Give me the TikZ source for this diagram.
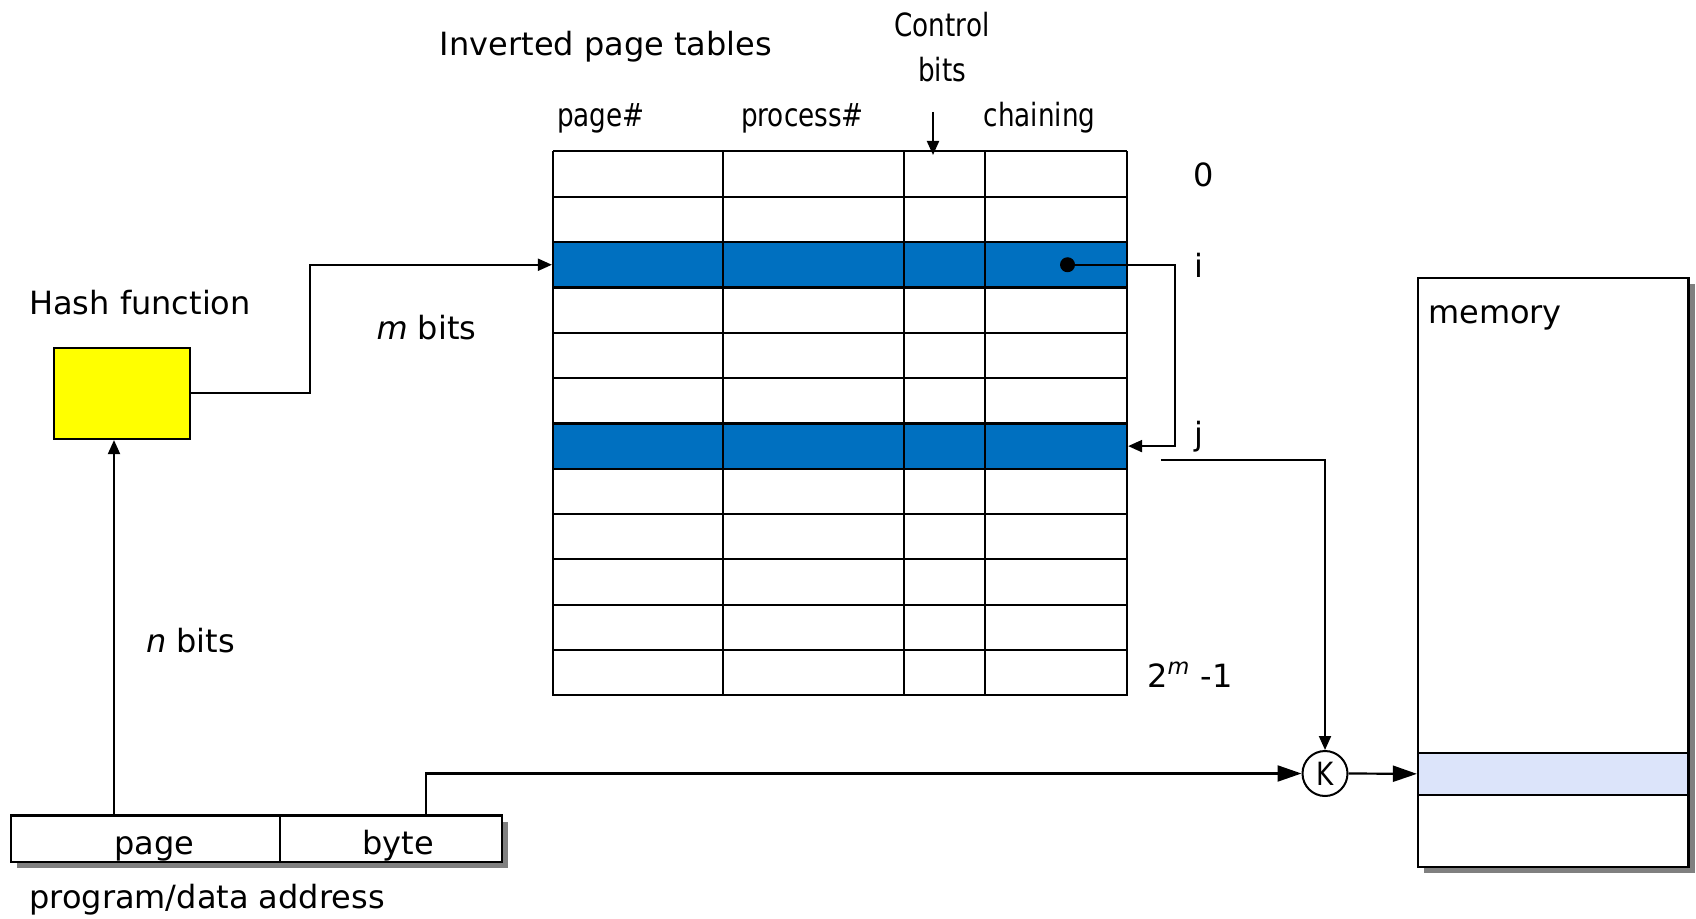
\documentclass[tikz,border=0pt]{standalone}
\usepackage{fontspec}
\setmainfont{DejaVu Sans}
\usetikzlibrary{arrows.meta,shadows}
\definecolor{rowblue}{HTML}{0070C0}
\definecolor{hashyellow}{HTML}{FFFF00}
\definecolor{memblue}{HTML}{DCE4FA}
\newcommand{\narrowtext}[1]{\scalebox{0.82}[1]{#1}}

\begin{document}
\begin{tikzpicture}[x=0.5pt, y=-0.5pt,
		text_style/.style={font=\fontsize{16}{19}\selectfont, inner sep=0pt, anchor=base},
		box_style/.style={draw=black, line width=1.1pt, inner sep=0pt},
		shadow_style/.style={drop shadow={shadow xshift=3pt, shadow yshift=-3pt, fill=black!50, opacity=1}},
		row_style/.style={box_style, fill=rowblue, minimum width=287pt, minimum height=22.67pt},
		grid_style/.style={draw=black, line width=1pt},
		dot_style/.style={circle, fill=black, inner sep=0pt, minimum size=7.5pt},
		edge_style/.style={draw=black, line width=1pt, -{Triangle[length=7pt,width=6pt]}},
		big_edge_style/.style={draw=black, line width=1.1pt, -{Triangle[length=12pt,width=8pt]}}]

		\useasboundingbox (0,0) rectangle (1696,919);

		\node[text_style] (title) at (606,56) {Inverted page tables};
		\node[text_style] (ctl1) at (942,36.7) {\narrowtext{Control}};
		\node[text_style] (ctl2) at (942,81.7) {\narrowtext{bits}};
		\node[text_style] (hpage) at (601,126.7) {\narrowtext{page\#}};
		\node[text_style] (hproc) at (802.5,126.7) {\narrowtext{process\#}};
		\node[text_style] (hchain) at (1039.5,126.7) {\narrowtext{chaining}};

		\node[row_style] (rowi) at (840,264.75) {};
		\node[row_style] (rowj) at (840,446.1) {};
		\foreach \k in {0,...,12}
			\draw[grid_style] (553,{151.4+45.34*\k}) -- (1127,{151.4+45.34*\k});
		\foreach \c in {553,722.5,904,985,1127}
			\draw[grid_style] (\c,151.4) -- (\c,695.5);

		\node[text_style] (lab0) at (1204,187) {0};
		\node[text_style] (labi) at (1198.5,278) {i};
		\node[text_style] (labj) at (1198.5,445) {j};
		\node[text_style] (lablast) at (1190,687) {2\textsuperscript{\itshape m} -1};

		\node[text_style] (hashlab) at (140,315) {Hash function};
		\node[box_style, fill=hashyellow, minimum width=68.2pt, minimum height=45.5pt] (hash) at (121.8,393.5) {};
		\node[text_style] (mbits) at (426.5,340) {{\itshape m} bits};
		\node[text_style] (nbits) at (190.5,652) {{\itshape n} bits};

		\node[box_style, shadow_style, fill=white, minimum width=134.6pt, minimum height=23.25pt] (apage) at (145.4,838.75) {};
		\node[box_style, shadow_style, fill=white, minimum width=111pt, minimum height=23.25pt] (abyte) at (391,838.75) {};
		\node[box_style, minimum width=134.6pt, minimum height=23.25pt] at (apage) {};
		\node[text_style] (pagelab) at (154.5,854) {page};
		\node[text_style] (bytelab) at (398,854) {byte};
		\node[text_style] (addrlab) at (207,908) {program/data address};

		\node[box_style, shadow_style, fill=white, minimum width=135.25pt, minimum height=294.35pt] (mem) at (1553.25,572.35) {};
		\node[box_style, fill=memblue, minimum width=135.25pt, minimum height=21.15pt] (memrow) at (1553.25,773.85) {};
		\node[text_style] (memlab) at (1495,324) {memory};

		\node[circle, draw=black, line width=1pt, minimum size=22.5pt, inner sep=0pt, font=\fontsize{16}{19}\selectfont] (K) at (1325,773.5) {\narrowtext{K}};

		\node[dot_style] (chain) at (1067.5,264.75) {};

		\coordinate (ctltop) at (933,112);
		\coordinate (ctlend) at (933,155);
		\coordinate (bendA) at (310,393.5);
		\coordinate (bendB) at (1175,264.75);
		\coordinate (jout) at (1160.8,459.5);
		\coordinate (pagetap) at (114,815.5);
		\coordinate (bytetap) at (426,815.5);

		\draw[edge_style] (ctltop) -- (ctlend);
		\draw[edge_style] (hash.east) -- (bendA) |- (rowi.west);
		\draw[edge_style] (chain.center) -- (bendB) |- (rowj.east);
		\draw[edge_style] (jout) -| (K.north);
		\draw[edge_style] (pagetap) -- (pagetap |- hash.south);
		\draw[big_edge_style] (bytetap) |- (K.west);
		\draw[big_edge_style] (K.east) -- (memrow.west);

\end{tikzpicture}
\end{document}
